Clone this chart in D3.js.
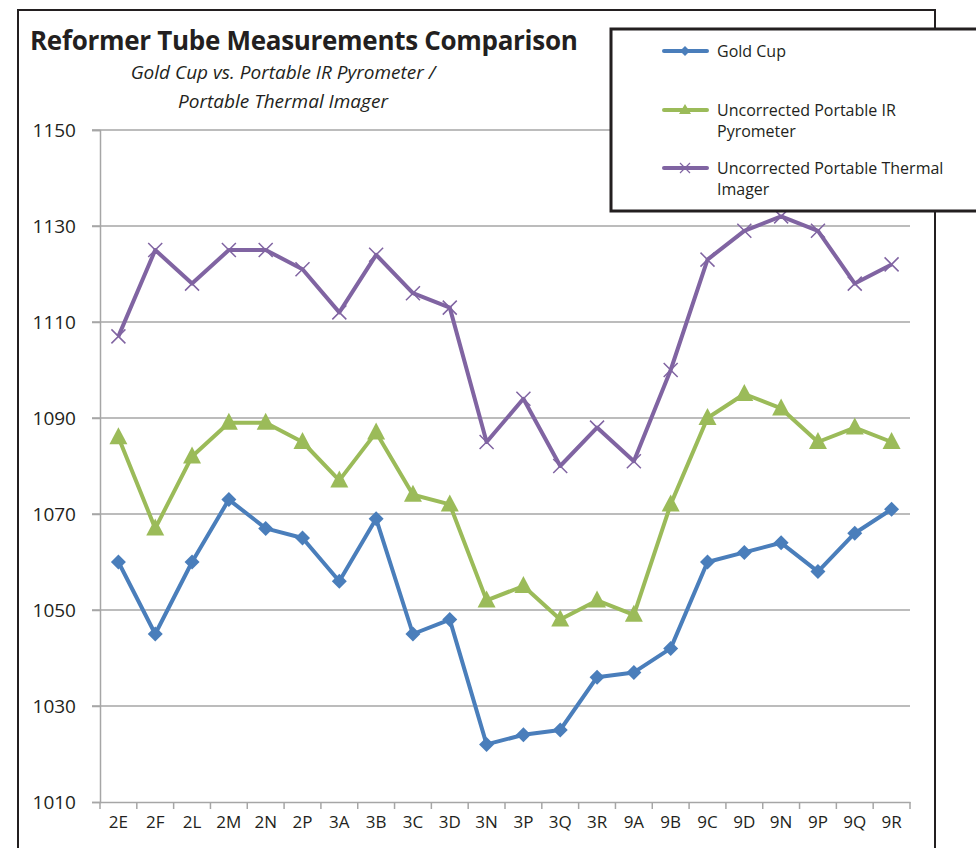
<!DOCTYPE html>
<html>
<head>
<meta charset="utf-8">
<script src="https://cdn.jsdelivr.net/npm/d3@7"></script>
<style>
  body { margin: 0; background: #fff; }
  svg { display: block; font-family: "Open Sans", "DejaVu Sans", sans-serif; }
</style>
</head>
<body>
<div id="chart"></div>
<script>
// Tube positions along the x axis
const tubes = ['2E', '2F', '2L', '2M', '2N', '2P', '3A', '3B', '3C', '3D', '3N',
               '3P', '3Q', '3R', '9A', '9B', '9C', '9D', '9N', '9P', '9Q', '9R'];

// Readings per method
const goldCup = [1060, 1045, 1060, 1073, 1067, 1065, 1056, 1069, 1045, 1048, 1022,
                 1024, 1025, 1036, 1037, 1042, 1060, 1062, 1064, 1058, 1066, 1071];
const irPyrometer = [1086, 1067, 1082, 1089, 1089, 1085, 1077, 1087, 1074, 1072, 1052,
                     1055, 1048, 1052, 1049, 1072, 1090, 1095, 1092, 1085, 1088, 1085];
const thermalImager = [1107, 1125, 1118, 1125, 1125, 1121, 1112, 1124, 1116, 1113, 1085,
                       1094, 1080, 1088, 1081, 1100, 1123, 1129, 1132, 1129, 1118, 1122];

const yTicks = [1010, 1030, 1050, 1070, 1090, 1110, 1130, 1150];

const series = [
    { name: ['Gold Cup'], values: goldCup, color: '#4a7ebb', marker: 'diamond' },
    { name: ['Uncorrected Portable IR', 'Pyrometer'], values: irPyrometer, color: '#9bbb59', marker: 'triangle' },
    { name: ['Uncorrected Portable Thermal', 'Imager'], values: thermalImager, color: '#8064a2', marker: 'cross' }
];

const W = 976, H = 848;
const margin = { top: 130, right: 66, bottom: 46, left: 100 };
const width = W - margin.left - margin.right;
const height = H - margin.top - margin.bottom;

const svg = d3.select('#chart')
    .append('svg')
    .attr('width', W)
    .attr('height', H);

// outer frame (bottom runs off the page)
svg.append('path')
    .attr('d', `M18,${H + 5} V10 H935 V${H + 5}`)
    .attr('fill', 'none')
    .attr('stroke', '#231f20')
    .attr('stroke-width', 2);

// title block
svg.append('text')
    .attr('x', 30).attr('y', 50)
    .style('font-size', '26px')
    .style('font-weight', 'bold')
    .style('letter-spacing', '-0.3px')
    .attr('fill', '#231f20')
    .text('Reformer Tube Measurements Comparison');

svg.append('text')
    .attr('x', 283).attr('y', 79)
    .attr('text-anchor', 'middle')
    .style('font-size', '19px')
    .style('font-style', 'italic')
    .attr('fill', '#231f20')
    .text('Gold Cup vs. Portable IR Pyrometer /');

svg.append('text')
    .attr('x', 283).attr('y', 108)
    .attr('text-anchor', 'middle')
    .style('font-size', '19px')
    .style('font-style', 'italic')
    .attr('fill', '#231f20')
    .text('Portable Thermal Imager');

const g = svg.append('g')
    .attr('transform', `translate(${margin.left},${margin.top})`);

const x = d3.scaleBand()
    .domain(tubes)
    .range([0, width]);

const y = d3.scaleLinear()
    .domain([1010, 1150])
    .range([height, 0]);

// grid lines
g.append('g')
    .selectAll('line')
    .data(yTicks.slice(1))
    .enter()
    .append('line')
    .attr('x1', -8)
    .attr('x2', width)
    .attr('y1', d => y(d))
    .attr('y2', d => y(d))
    .attr('stroke', '#a6a6a6')
    .attr('stroke-width', 1.5);

// axes
g.append('g')
    .call(d3.axisLeft(y).tickValues(yTicks).tickSize(8).tickPadding(16).tickFormat(d3.format('d')))
    .call(a => a.select('.domain').attr('stroke', '#a6a6a6').attr('stroke-width', 1.5))
    .call(a => a.selectAll('.tick line').attr('stroke', '#a6a6a6').attr('stroke-width', 1.5))
    .call(a => a.selectAll('.tick text')
        .attr('fill', '#231f20')
        .style('font-size', '19px')
        .style('font-family', '"Open Sans", sans-serif'));

const xAxis = g.append('g')
    .attr('transform', `translate(0,${height})`)
    .call(d3.axisBottom(x).tickSize(0).tickPadding(14))
    .call(a => a.select('.domain').attr('stroke', '#a6a6a6').attr('stroke-width', 1.5))
    .call(a => a.selectAll('.tick text')
        .attr('fill', '#231f20')
        .style('font-size', '17px')
        .style('font-family', '"Open Sans", sans-serif'));

// category boundary ticks
xAxis.append('g')
    .selectAll('line')
    .data(tubes)
    .enter()
    .append('line')
    .attr('x1', d => x(d) + x.bandwidth())
    .attr('x2', d => x(d) + x.bandwidth())
    .attr('y1', 0)
    .attr('y2', 7)
    .attr('stroke', '#a6a6a6')
    .attr('stroke-width', 1.5);
xAxis.append('line')
    .attr('x1', 0).attr('x2', 0).attr('y1', 0).attr('y2', 7)
    .attr('stroke', '#a6a6a6').attr('stroke-width', 1.5);

const cx = i => x(tubes[i]) + x.bandwidth() / 2;

const line = d3.line()
    .x((d, i) => cx(i))
    .y(d => y(d));

function drawMarker(sel, type, color) {
    if (type === 'diamond') {
        sel.append('path')
            .attr('d', 'M0,-7.5 L7.5,0 L0,7.5 L-7.5,0 Z')
            .attr('fill', color);
    } else if (type === 'triangle') {
        sel.append('path')
            .attr('d', 'M0,-10 L9,7 L-9,7 Z')
            .attr('fill', color);
    } else {
        sel.append('path')
            .attr('d', 'M-7,-7 L7,7 M-7,7 L7,-7')
            .attr('fill', 'none')
            .attr('stroke', color)
            .attr('stroke-width', 1.5);
    }
}

series.forEach(s => {
    g.append('path')
        .datum(s.values)
        .attr('fill', 'none')
        .attr('stroke', s.color)
        .attr('stroke-width', 4)
        .attr('stroke-linejoin', 'round')
        .attr('d', line);

    g.append('g')
        .selectAll('g')
        .data(s.values)
        .enter()
        .append('g')
        .attr('transform', (d, i) => `translate(${cx(i)},${y(d)})`)
        .each(function() { drawMarker(d3.select(this), s.marker, s.color); });
});

// legend
const legend = svg.append('g');
legend.append('rect')
    .attr('x', 611).attr('y', 29)
    .attr('width', 380).attr('height', 182)
    .attr('fill', '#fff')
    .attr('stroke', '#231f20')
    .attr('stroke-width', 3);

const legendY = [51, 110, 168];
series.forEach((s, k) => {
    const row = legend.append('g').attr('transform', `translate(0,${legendY[k]})`);
    row.append('line')
        .attr('x1', 664).attr('x2', 707)
        .attr('y1', 0).attr('y2', 0)
        .attr('stroke', s.color)
        .attr('stroke-width', 4)
        .attr('stroke-linecap', 'round');
    const m = row.append('g').attr('transform', 'translate(685,0)');
    if (s.marker === 'diamond') {
        m.append('path').attr('d', 'M0,-5 L5,0 L0,5 L-5,0 Z').attr('fill', s.color);
    } else if (s.marker === 'triangle') {
        m.append('path').attr('d', 'M0,-6 L6,4 L-6,4 Z').attr('fill', s.color);
    } else {
        m.append('path').attr('d', 'M-5,-5 L5,5 M-5,5 L5,-5')
            .attr('stroke', s.color).attr('stroke-width', 1.2);
    }
    s.name.forEach((t, j) => {
        row.append('text')
            .attr('x', 717)
            .attr('y', j * 21 + 6)
            .style('font-size', '16px')
            .attr('fill', '#231f20')
            .text(t);
    });
});
</script>
</body>
</html>
